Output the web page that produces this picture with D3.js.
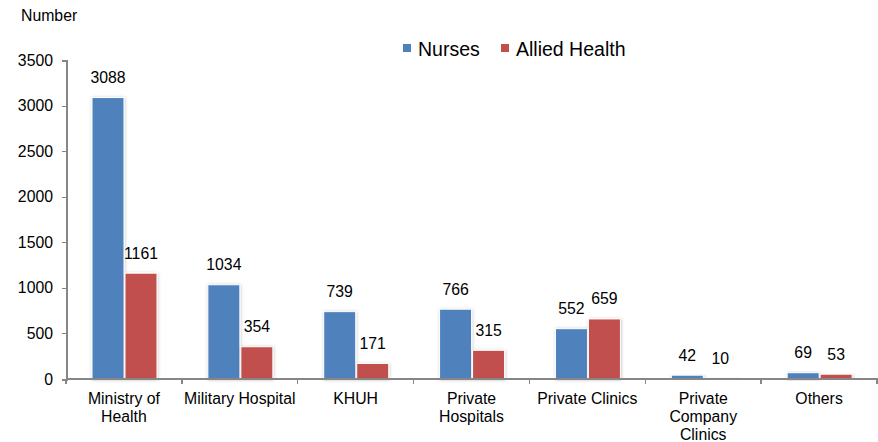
<!DOCTYPE html>
<html>
  <head>
    <meta charset='utf-8'>
    <title></title>
    <script src='https://d3js.org/d3.v7.min.js'></script>
    <style>
      body {
        margin: 0;
        background: #fff;
      }
      svg {
        display: block;
        font-family: 'Liberation Sans', Arial, sans-serif;
      }
      .axis path,
      .axis line {
        stroke: #868686;
        shape-rendering: crispEdges;
      }
      .axis text {
        font-size: 15.8px;
        fill: #000;
      }
      .bar-label {
        font-size: 15.8px;
        text-anchor: middle;
        fill: #000;
      }
    </style>
  </head>
  <body>
  <script type='text/javascript'>

    // data
    var categories = ['Ministry of Health', 'Military Hospital', 'KHUH', 'Private Hospitals',
                      'Private Clinics', 'Private Company Clinics', 'Others'];
    var categoryLines = [['Ministry of', 'Health'], ['Military Hospital'], ['KHUH'],
                         ['Private', 'Hospitals'], ['Private Clinics'],
                         ['Private', 'Company', 'Clinics'], ['Others']];
    var seriesNames = ['Nurses', 'Allied Health'];
    var nurses = [3088, 1034, 739, 766, 552, 42, 69];
    var alliedHealth = [1161, 354, 171, 315, 659, 10, 53];
    var yTicks = [0, 500, 1000, 1500, 2000, 2500, 3000, 3500];
    var colors = ['#4f81bd', '#c0504d'];

    var width = 878;
    var height = 442;

    var svg = d3.select('body')
              .append('svg')
              .attr('width', width)
              .attr('height', height);

    var defs = svg.append('defs');
    defs.append('filter')
      .attr('id', 'shadow')
      .attr('x', '-20%').attr('y', '-20%')
      .attr('width', '140%').attr('height', '140%')
      .append('feDropShadow')
      .attr('dx', 0.5).attr('dy', 0.5)
      .attr('stdDeviation', 1.5)
      .attr('flood-color', '#000')
      .attr('flood-opacity', 0.25);

    var x0 = d3.scaleBand()
              .domain(categories)
              .range([66, 877]);

    var x1 = d3.scaleBand()
              .domain(seriesNames)
              .range([26, 91])
              .paddingInner(0.03);

    var y = d3.scaleLinear()
              .domain([0, 3500])
              .range([379, 60]);

    var color = d3.scaleOrdinal(seriesNames, colors);

    var rows = categories.map(function(c, i) {
      return {category: c, values: [
        {name: seriesNames[0], value: nurses[i]},
        {name: seriesNames[1], value: alliedHealth[i]}
      ]};
    });

    // y axis
    svg.append('g')
      .attr('class', 'axis axis--y')
      .attr('transform', 'translate(66,0)')
      .call(d3.axisLeft(y).tickValues(yTicks).tickFormat(d3.format('d'))
              .tickSize(4).tickPadding(9).tickSizeOuter(4))
      .call(function(g) { g.select('.domain').attr('stroke-width', 2); });

    svg.append('text')
      .attr('x', 21)
      .attr('y', 21)
      .style('font-size', '15.8px')
      .text('Number');

    // bars
    var groups = svg.selectAll('.group')
      .data(rows)
      .enter().append('g')
      .attr('class', 'group')
      .attr('transform', function(d) { return 'translate(' + x0(d.category) + ',0)'; });

    groups.selectAll('rect')
      .data(function(d) { return d.values; })
      .enter().append('rect')
      .attr('x', function(d) { return x1(d.name); })
      .attr('y', function(d) { return y(d.value); })
      .attr('width', x1.bandwidth())
      .attr('height', function(d) { return y(0) - y(d.value); })
      .attr('fill', function(d) { return color(d.name); })
      .attr('stroke', '#fff')
      .attr('stroke-width', 1)
      .attr('filter', 'url(#shadow)');

    groups.selectAll('.bar-label')
      .data(function(d) { return d.values; })
      .enter().append('text')
      .attr('class', 'bar-label')
      .attr('x', function(d) { return x1(d.name) + x1.bandwidth() / 2; })
      .attr('y', function(d) { return y(d.value) - 14.5; })
      .text(function(d) { return d.value; });

    // x axis
    var xAxis = svg.append('g')
      .attr('class', 'axis axis--x')
      .attr('transform', 'translate(0,379)');

    xAxis.append('line')
      .attr('x1', 66).attr('x2', 878)
      .attr('stroke-width', 2);

    xAxis.selectAll('.tick-mark')
      .data(categories.concat(['end']))
      .enter().append('line')
      .attr('class', 'tick-mark')
      .attr('x1', function(d, i) { return 66 + i * x0.step(); })
      .attr('x2', function(d, i) { return 66 + i * x0.step(); })
      .attr('y1', 0)
      .attr('y2', 5)
      .attr('stroke-width', 1.5);

    var labels = xAxis.selectAll('.cat-label')
      .data(categories)
      .enter().append('text')
      .attr('class', 'cat-label')
      .attr('text-anchor', 'middle')
      .attr('transform', function(d) { return 'translate(' + (x0(d) + x0.bandwidth() / 2) + ',25)'; });

    labels.selectAll('tspan')
      .data(function(d, i) { return categoryLines[i]; })
      .enter().append('tspan')
      .attr('x', 0)
      .attr('y', function(d, i) { return i * 18; })
      .text(function(d) { return d; });

    // legend
    var legend = svg.append('g')
      .attr('transform', 'translate(403,0)');

    var legendX = [0, 98];
    var items = legend.selectAll('.legend-item')
      .data(seriesNames)
      .enter().append('g')
      .attr('class', 'legend-item')
      .attr('transform', function(d, i) { return 'translate(' + legendX[i] + ',0)'; });

    items.append('rect')
      .attr('x', 0)
      .attr('y', 44)
      .attr('width', 8)
      .attr('height', 8)
      .attr('fill', function(d) { return color(d); });

    items.append('text')
      .attr('x', 15)
      .attr('y', 56)
      .style('font-size', '19.5px')
      .text(function(d) { return d; });

  </script>
  </body>
</html>
